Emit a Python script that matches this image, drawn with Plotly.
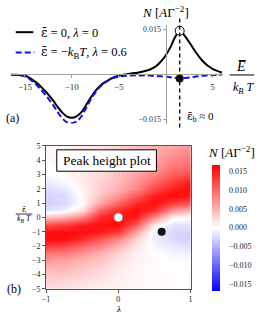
import plotly.graph_objects as go

W, H = 261, 324

# ---------------- Panel (a) data ----------------
E_vals = [-16.5, -16, -15.5, -15, -14.5, -14, -13.5, -13, -12.5, -12, -11.5, -11,
          -10.5, -10, -9.5, -9, -8.5, -8, -7.5, -7, -6.5, -6, -5.5, -5, -4.5, -4,
          -3.5, -3, -2.5, -2, -1.5, -1, -0.5, 0, 0.5, 1, 1.5, 2, 2.5, 3, 3.5, 4,
          4.5, 5, 5.5, 6]
N_black = [-0.0001, -0.0001, -0.0002, -0.0004, -0.0011, -0.0022, -0.0034, -0.0050,
           -0.0067, -0.0086, -0.0108, -0.0127, -0.0140, -0.0144, -0.0139, -0.0126,
           -0.0103, -0.0077, -0.0055, -0.0038, -0.0026, -0.0017, -0.0009, -0.0004,
           -0.0001, 0.0002, 0.0004, 0.0006, 0.0009, 0.0013, 0.0019, 0.0028, 0.0043,
           0.0063, 0.0090, 0.0124, 0.0145, 0.0130, 0.0108, 0.0084, 0.0062, 0.0043,
           0.0029, 0.0019, 0.0012, 0.0007]
N_blue = [-0.0002, -0.0002, -0.0003, -0.0006, -0.0015, -0.0028, -0.0043, -0.0061,
          -0.0080, -0.0101, -0.0125, -0.0146, -0.0159, -0.0162, -0.0156, -0.0140,
          -0.0113, -0.0084, -0.0060, -0.0041, -0.0028, -0.0018, -0.0011, -0.0007,
          -0.0005, -0.0004, -0.0003, -0.0003, -0.0003, -0.0003, -0.0004, -0.0005,
          -0.0006, -0.0007, -0.0009, -0.0011, -0.0013, -0.0012, -0.0010, -0.0008,
          -0.0006, -0.0004, -0.0003, -0.0002, -0.0001, 0.0000]
E_peak = [1.5]
N_peak_black = [0.0145]
N_peak_blue = [-0.0013]
a_xticks = [-15, -10, -5, 5]
a_yticks = [-0.015, 0.015]
a_yticklabels = ["\u22120.015", "0.015"]

# ---------------- Panel (b) data ----------------
lam = [-1, -0.75, -0.5, -0.25, 0, 0.25, 0.5, 0.75, 1]
eps = [5, 4.5, 4, 3.5, 3, 2.5, 2, 1.5, 1, 0.5, 0, -0.5, -1, -1.5, -2, -2.5, -3,
       -3.5, -4, -4.5, -5]
Z = [
    [0.0002, 0.0008, 0.0015, 0.002, 0.003, 0.004, 0.005, 0.006, 0.007],
    [0.0004, 0.001, 0.0015, 0.002, 0.003, 0.004, 0.0055, 0.007, 0.008],
    [0.0004, 0.001, 0.0015, 0.002, 0.003, 0.0045, 0.006, 0.008, 0.009],
    [0.0, 0.0008, 0.0015, 0.0025, 0.0035, 0.005, 0.007, 0.009, 0.010],
    [-0.0004, 0.0003, 0.0015, 0.0025, 0.004, 0.006, 0.008, 0.011, 0.012],
    [-0.0012, -0.0004, 0.0012, 0.003, 0.0045, 0.007, 0.010, 0.013, 0.015],
    [-0.0022, -0.0015, 0.0008, 0.003, 0.005, 0.008, 0.012, 0.015, 0.016],
    [-0.003, -0.0025, 0.0003, 0.004, 0.007, 0.011, 0.015, 0.016, 0.015],
    [-0.003, -0.0025, 0.0, 0.006, 0.010, 0.014, 0.016, 0.013, 0.011],
    [-0.002, -0.001, 0.002, 0.010, 0.014, 0.016, 0.014, 0.007, 0.005],
    [0.004, 0.005, 0.008, 0.014, 0.016, 0.015, 0.008, 0.001, 0.0],
    [0.012, 0.013, 0.015, 0.016, 0.016, 0.011, 0.001, -0.002, -0.002],
    [0.016, 0.016, 0.016, 0.015, 0.013, 0.006, -0.001, -0.0025, -0.003],
    [0.016, 0.016, 0.014, 0.011, 0.008, 0.003, -0.001, -0.0025, -0.003],
    [0.013, 0.012, 0.010, 0.008, 0.005, 0.0015, -0.0005, -0.0015, -0.002],
    [0.009, 0.009, 0.007, 0.005, 0.003, 0.001, 0.0, -0.0007, -0.001],
    [0.007, 0.006, 0.005, 0.004, 0.002, 0.0008, 0.0003, -0.0002, -0.0004],
    [0.005, 0.005, 0.004, 0.003, 0.0015, 0.0005, 0.0004, 0.0, -0.0002],
    [0.004, 0.0035, 0.003, 0.002, 0.001, 0.0005, 0.0004, 0.0002, 0.0],
    [0.003, 0.0025, 0.002, 0.0015, 0.001, 0.0005, 0.0003, 0.0002, 0.0],
    [0.002, 0.002, 0.0015, 0.001, 0.0008, 0.0005, 0.0003, 0.0002, 0.0],
]
pt_white = ([0], [0])
pt_black = ([0.6], [-1])
cb_ticks = [-0.015, -0.010, -0.005, 0.0, 0.005, 0.010, 0.015]
b_xticks = [-1, 0, 1]
b_yticks = [-5, -4, -3, -2, -1, 0, 1, 2, 3, 4, 5]

FONT = "Liberation Serif, Times New Roman, DejaVu Serif, serif"
EPSBAR = '<span style="font-family:DejaVu Serif">\u03b5\u0304</span>'


def fx(p):
    return p / W


def fy(p):
    return 1 - p / H


# layout geometry
a_xrange = [-16.5, 6.1]
a_yrange = [-0.0163, 0.0163]
a_xdom = [fx(7), fx(224)]
a_ydom = [fy(123), fy(22)]
x0_frac = a_xdom[0] + (0 - a_xrange[0]) / (a_xrange[1] - a_xrange[0]) * (a_xdom[1] - a_xdom[0])
y0_frac = a_ydom[0] + (0 - a_yrange[0]) / (a_yrange[1] - a_yrange[0]) * (a_ydom[1] - a_ydom[0])

fig = go.Figure()

fig.add_trace(go.Scatter(x=E_vals, y=N_black, mode="lines", line=dict(color="black", width=2, shape="spline"),
                         xaxis="x", yaxis="y", showlegend=False, cliponaxis=False))
fig.add_trace(go.Scatter(x=E_vals, y=N_blue, mode="lines",
                         line=dict(color="#1010ee", width=2, dash="6px,3px", shape="spline"),
                         xaxis="x", yaxis="y", showlegend=False, cliponaxis=False))
fig.add_trace(go.Scatter(x=E_peak, y=N_peak_black, mode="markers",
                         marker=dict(color="white", size=9, line=dict(color="black", width=1)),
                         xaxis="x", yaxis="y", showlegend=False, cliponaxis=False))
fig.add_trace(go.Scatter(x=E_peak, y=N_peak_blue, mode="markers",
                         marker=dict(color="#111111", size=8),
                         xaxis="x", yaxis="y", showlegend=False, cliponaxis=False))

fig.add_trace(go.Heatmap(
    x=lam, y=eps, z=Z, zsmooth="best", xaxis="x2", yaxis="y2",
    colorscale=[[0, "rgb(0,0,255)"], [0.5, "rgb(255,255,255)"], [1, "rgb(255,0,0)"]],
    zmin=-0.0168, zmax=0.0168,
    colorbar=dict(x=fx(213), xanchor="left", y=fy(230), yanchor="middle",
                  len=130 / H, lenmode="fraction", thickness=8, thicknessmode="pixels",
                  outlinewidth=0, xpad=0, ypad=0, tickvals=cb_ticks, tickformat=".3f",
                  ticks="outside", ticklen=8, tickcolor="rgba(0,0,0,0)",
                  tickfont=dict(family=FONT, size=8, color="#222")),
))
fig.add_trace(go.Scatter(x=pt_white[0], y=pt_white[1], mode="markers",
                         marker=dict(color="white", size=9, line=dict(color="#888", width=1)),
                         xaxis="x2", yaxis="y2", showlegend=False))
fig.add_trace(go.Scatter(x=pt_black[0], y=pt_black[1], mode="markers",
                         marker=dict(color="#111111", size=8),
                         xaxis="x2", yaxis="y2", showlegend=False))

shapes = [
    dict(type="line", xref="x", yref="paper", x0=E_peak[0], x1=E_peak[0], y0=fy(127), y1=fy(15),
         line=dict(color="black", width=1.3, dash="4px,3px")),
    dict(type="line", xref="paper", yref="paper", x0=fx(12), x1=fx(30), y0=fy(29), y1=fy(29),
         line=dict(color="black", width=2)),
    dict(type="line", xref="paper", yref="paper", x0=fx(12), x1=fx(31), y0=fy(50), y1=fy(50),
         line=dict(color="#1010ee", width=2, dash="6px,3px")),
    dict(type="line", xref="paper", yref="paper", x0=fx(231), x1=fx(256), y0=fy(73), y1=fy(73),
         line=dict(color="black", width=1)),
    dict(type="line", xref="paper", yref="paper", x0=fx(12), x1=fx(29), y0=fy(216), y1=fy(216),
         line=dict(color="black", width=0.8)),
    dict(type="rect", xref="paper", yref="paper", x0=fx(54), x1=fx(156), y0=fy(172), y1=fy(150),
         line=dict(color="black", width=1), fillcolor="white"),
]


def ann(x, y, text, size, xanchor="center", color="black"):
    return dict(x=fx(x), y=fy(y), xref="paper", yref="paper", text=text, showarrow=False,
                xanchor=xanchor, yanchor="middle", font=dict(family=FONT, size=size, color=color))


annotations = [
    ann(165, 8, "<i>N</i> [<i>A</i>\u0393<sup>\u22122</sup>]", 13),
    ann(36, 29, EPSBAR + " = 0, <i>\u03bb</i> = 0", 12.5, "left"),
    ann(36, 50, EPSBAR + " = \u2212<i>k</i><sub>B</sub><i>T</i>, <i>\u03bb</i> = 0.6", 12.5, "left"),
    ann(243, 64, "<i>E\u0305</i>", 14),
    ann(245, 86, "<i>k<sub>B</sub> T</i>", 12),
    ann(9, 117, "(a)", 12),
    ann(185, 116, EPSBAR + "<sub>b</sub> \u2248 0", 11, "left"),
    ann(105, 161, "Peak height plot", 13.5),
    ann(233, 152, "<i>N</i> [<i>A</i>\u0393<sup>\u22122</sup>]", 13),
    ann(20.5, 211, EPSBAR, 8),
    ann(20.5, 221, "<i>k<sub>B</sub> T</i>", 8),
    ann(117, 314, "<i>\u03bb</i>", 9),
    ann(10, 293, "(b)", 12),
]

axis_gray = "#a0a0a0"
fig.update_layout(
    width=W, height=H, margin=dict(l=0, r=0, t=0, b=0),
    paper_bgcolor="white", plot_bgcolor="rgba(0,0,0,0)",
    showlegend=False,
    font=dict(family=FONT),
    xaxis=dict(domain=a_xdom, range=a_xrange, anchor="free", position=y0_frac,
               showgrid=False, zeroline=False, showline=True, linecolor=axis_gray, linewidth=1,
               tickvals=a_xticks, ticks="outside", ticklen=3, tickcolor=axis_gray,
               tickfont=dict(family=FONT, size=9, color="#333"), ticklabelstandoff=1),
    yaxis=dict(domain=a_ydom, range=a_yrange, anchor="free", position=x0_frac,
               showgrid=False, zeroline=False, showline=True, linecolor=axis_gray, linewidth=1,
               tickvals=a_yticks, ticktext=a_yticklabels, ticks="outside", ticklen=3, tickcolor=axis_gray,
               tickfont=dict(family=FONT, size=8, color="#333")),
    xaxis2=dict(domain=[fx(43), fx(191)], range=[-1, 1], anchor="y2",
                showgrid=False, zeroline=False, showline=True, mirror=True, linecolor="#555", linewidth=1,
                tickvals=b_xticks, ticks="outside", ticklen=3, tickcolor="#555",
                tickfont=dict(family=FONT, size=8, color="#222"), ticklabelstandoff=0),
    yaxis2=dict(domain=[fy(293), fy(146)], range=[-5, 5], anchor="x2",
                showgrid=False, zeroline=False, showline=True, mirror=True, linecolor="#555", linewidth=1,
                tickvals=b_yticks, ticks="outside", ticklen=3, tickcolor="#555",
                tickfont=dict(family=FONT, size=8, color="#222")),
    shapes=shapes,
    annotations=annotations,
)

fig.write_html("out.html", config={"displayModeBar": False},
               post_script="document.body.style.margin='0';")
